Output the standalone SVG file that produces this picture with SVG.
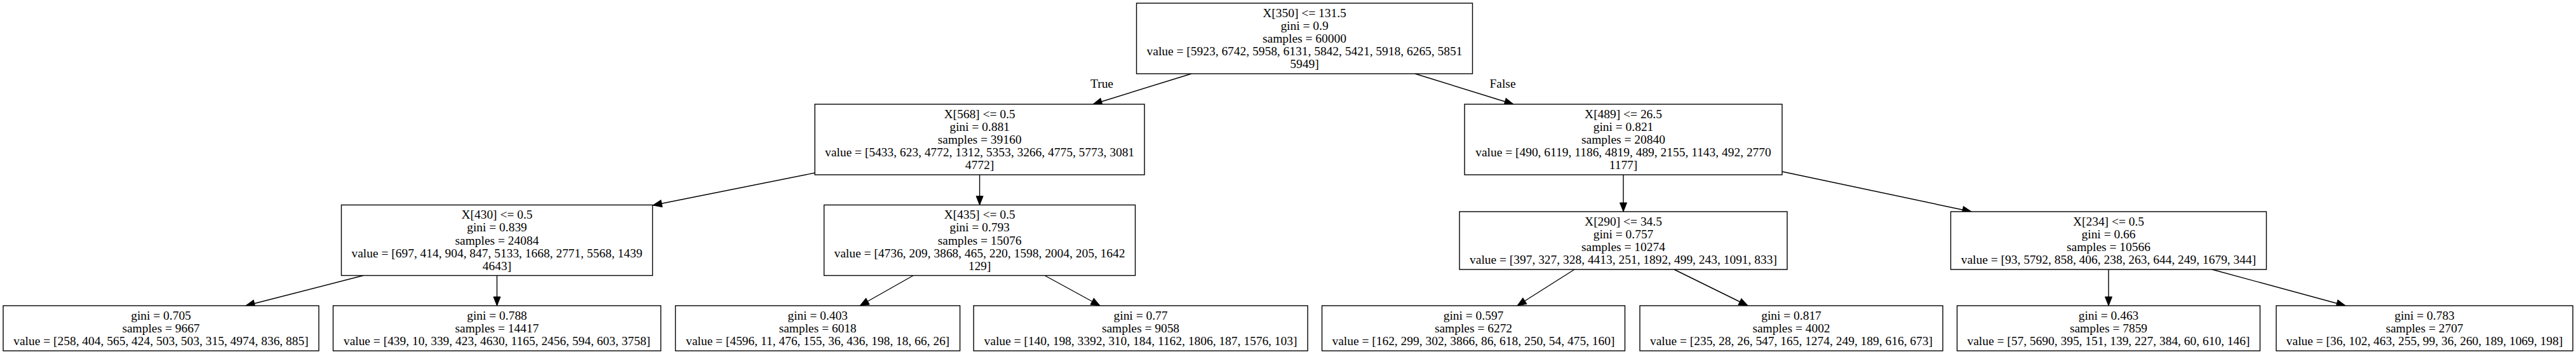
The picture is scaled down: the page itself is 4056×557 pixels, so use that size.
<svg xmlns="http://www.w3.org/2000/svg" width="4056" height="557" viewBox="0 0 4056 557">
<style>
text{font-family:"Liberation Serif","Times New Roman",serif;font-size:19.44px;text-anchor:middle;fill:#000}
.box{fill:#fff;stroke:#000;stroke-width:1.4}
.edge{fill:none;stroke:#000;stroke-width:1.4;marker-end:url(#ah)}
</style>
<defs>
<marker id="ah" markerWidth="14" markerHeight="11" refX="14" refY="5.5" orient="auto" markerUnits="userSpaceOnUse" overflow="visible">
<path d="M0,0 L14,5.5 L0,11 z" fill="#000" stroke="#000" stroke-width="1"/>
</marker>
</defs>
<rect width="4056" height="557" fill="#fff"/>
<g id="edges">
<line class="edge" x1="1876" y1="116" x2="1721" y2="164"/>
<line class="edge" x1="2228" y1="116" x2="2383" y2="164"/>
<line class="edge" x1="1283" y1="272" x2="1028" y2="323"/>
<line class="edge" x1="1542.5" y1="275" x2="1542.5" y2="322.5"/>
<line class="edge" x1="2556" y1="275" x2="2556" y2="333"/>
<line class="edge" x1="2806" y1="270" x2="3104" y2="333"/>
<line class="edge" x1="572" y1="433.5" x2="387" y2="481"/>
<line class="edge" x1="782.5" y1="433.5" x2="782.5" y2="481"/>
<line class="edge" x1="1438" y1="433.5" x2="1354" y2="481"/>
<line class="edge" x1="1645" y1="433.5" x2="1732" y2="481"/>
<line class="edge" x1="2479" y1="424" x2="2389" y2="481"/>
<line class="edge" x1="2636" y1="424" x2="2752" y2="481"/>
<line class="edge" x1="3320" y1="424" x2="3320" y2="481"/>
<line class="edge" x1="3483" y1="424" x2="3693" y2="481"/>
<text x="1735" y="138">True</text>
<text x="2366" y="138">False</text>
</g>
<g id="n0">
<rect class="box" x="1789.5" y="5" width="529" height="111"/>
<text x="2054" y="26.6">X[350] &lt;= 131.5</text>
<text x="2054" y="46.8">gini = 0.9</text>
<text x="2054" y="67">samples = 60000</text>
<text x="2054" y="87.2">value = [5923, 6742, 5958, 6131, 5842, 5421, 5918, 6265, 5851</text>
<text x="2054" y="107.4">5949]</text>
</g>
<g id="n1">
<rect class="box" x="1283" y="164" width="519" height="111"/>
<text x="1542.5" y="185.6">X[568] &lt;= 0.5</text>
<text x="1542.5" y="205.8">gini = 0.881</text>
<text x="1542.5" y="226">samples = 39160</text>
<text x="1542.5" y="246.2">value = [5433, 623, 4772, 1312, 5353, 3266, 4775, 5773, 3081</text>
<text x="1542.5" y="266.4">4772]</text>
</g>
<g id="n2">
<rect class="box" x="2306" y="164" width="500" height="111"/>
<text x="2556" y="185.6">X[489] &lt;= 26.5</text>
<text x="2556" y="205.8">gini = 0.821</text>
<text x="2556" y="226">samples = 20840</text>
<text x="2556" y="246.2">value = [490, 6119, 1186, 4819, 489, 2155, 1143, 492, 2770</text>
<text x="2556" y="266.4">1177]</text>
</g>
<g id="n3">
<rect class="box" x="537.5" y="322.5" width="490" height="111"/>
<text x="782.5" y="344.1">X[430] &lt;= 0.5</text>
<text x="782.5" y="364.3">gini = 0.839</text>
<text x="782.5" y="384.5">samples = 24084</text>
<text x="782.5" y="404.7">value = [697, 414, 904, 847, 5133, 1668, 2771, 5568, 1439</text>
<text x="782.5" y="424.9">4643]</text>
</g>
<g id="n4">
<rect class="box" x="1297.5" y="322.5" width="490" height="111"/>
<text x="1542.5" y="344.1">X[435] &lt;= 0.5</text>
<text x="1542.5" y="364.3">gini = 0.793</text>
<text x="1542.5" y="384.5">samples = 15076</text>
<text x="1542.5" y="404.7">value = [4736, 209, 3868, 465, 220, 1598, 2004, 205, 1642</text>
<text x="1542.5" y="424.9">129]</text>
</g>
<g id="n5">
<rect class="box" x="2298" y="333" width="516" height="91"/>
<text x="2556" y="354.7">X[290] &lt;= 34.5</text>
<text x="2556" y="374.9">gini = 0.757</text>
<text x="2556" y="395.1">samples = 10274</text>
<text x="2556" y="415.3">value = [397, 327, 328, 4413, 251, 1892, 499, 243, 1091, 833]</text>
</g>
<g id="n6">
<rect class="box" x="3071.5" y="333" width="497" height="91"/>
<text x="3320" y="354.7">X[234] &lt;= 0.5</text>
<text x="3320" y="374.9">gini = 0.66</text>
<text x="3320" y="395.1">samples = 10566</text>
<text x="3320" y="415.3">value = [93, 5792, 858, 406, 238, 263, 644, 249, 1679, 344]</text>
</g>
<g id="n7">
<rect class="box" x="5" y="481" width="497" height="71"/>
<text x="253.5" y="502.8">gini = 0.705</text>
<text x="253.5" y="523">samples = 9667</text>
<text x="253.5" y="543.2">value = [258, 404, 565, 424, 503, 503, 315, 4974, 836, 885]</text>
</g>
<g id="n8">
<rect class="box" x="524.5" y="481" width="516" height="71"/>
<text x="782.5" y="502.8">gini = 0.788</text>
<text x="782.5" y="523">samples = 14417</text>
<text x="782.5" y="543.2">value = [439, 10, 339, 423, 4630, 1165, 2456, 594, 603, 3758]</text>
</g>
<g id="n9">
<rect class="box" x="1063.5" y="481" width="448" height="71"/>
<text x="1287.5" y="502.8">gini = 0.403</text>
<text x="1287.5" y="523">samples = 6018</text>
<text x="1287.5" y="543.2">value = [4596, 11, 476, 155, 36, 436, 198, 18, 66, 26]</text>
</g>
<g id="n10">
<rect class="box" x="1533" y="481" width="526" height="71"/>
<text x="1796" y="502.8">gini = 0.77</text>
<text x="1796" y="523">samples = 9058</text>
<text x="1796" y="543.2">value = [140, 198, 3392, 310, 184, 1162, 1806, 187, 1576, 103]</text>
</g>
<g id="n11">
<rect class="box" x="2081.5" y="481" width="477" height="71"/>
<text x="2320" y="502.8">gini = 0.597</text>
<text x="2320" y="523">samples = 6272</text>
<text x="2320" y="543.2">value = [162, 299, 302, 3866, 86, 618, 250, 54, 475, 160]</text>
</g>
<g id="n12">
<rect class="box" x="2582" y="481" width="477" height="71"/>
<text x="2820.5" y="502.8">gini = 0.817</text>
<text x="2820.5" y="523">samples = 4002</text>
<text x="2820.5" y="543.2">value = [235, 28, 26, 547, 165, 1274, 249, 189, 616, 673]</text>
</g>
<g id="n13">
<rect class="box" x="3081.5" y="481" width="477" height="71"/>
<text x="3320" y="502.8">gini = 0.463</text>
<text x="3320" y="523">samples = 7859</text>
<text x="3320" y="543.2">value = [57, 5690, 395, 151, 139, 227, 384, 60, 610, 146]</text>
</g>
<g id="n14">
<rect class="box" x="3584" y="481" width="467" height="71"/>
<text x="3817.5" y="502.8">gini = 0.783</text>
<text x="3817.5" y="523">samples = 2707</text>
<text x="3817.5" y="543.2">value = [36, 102, 463, 255, 99, 36, 260, 189, 1069, 198]</text>
</g>
</svg>
